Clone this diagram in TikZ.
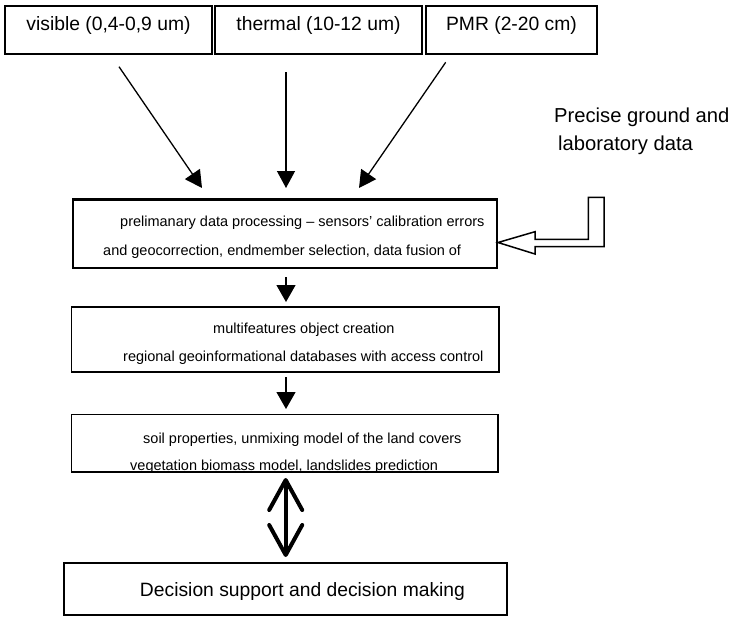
\documentclass[tikz,border=0pt]{standalone}
\usepackage{fontspec}
\setmainfont{Liberation Sans}
\usetikzlibrary{arrows.meta}
\begin{document}
\begin{tikzpicture}[x=1pt,y=-1pt,
  band/.style={draw,line width=2.2pt,minimum width=#1,minimum height=48pt,inner sep=0pt},
  stage/.style={draw,line width=1.4pt,inner sep=0pt},
  big/.style={font=\fontsize{19.3}{22}\selectfont,inner sep=0pt},
  small/.style={font=\fontsize{14.5}{17}\selectfont,inner sep=0pt,anchor=west},
  feed/.style={line width=1.3pt,-{Triangle[length=17pt,width=18pt]}},
  flow/.style={line width=1.3pt,-{Triangle[length=17pt,width=19pt]}}]
\useasboundingbox (0,0) rectangle (731,616);

% spectral bands
\node[band=207pt] (vis) at (108.2,29.9) {};
\node[band=207pt] (thr) at (318.7,29.9) {};
\node[band=171pt] (pmr) at (511.2,29.9) {};
\node[big] at (108.5,26) {visible (0,4-0,9 um)};
\node[big] at (318.5,26) {thermal (10-12 um)};
\node[big] at (511.5,26) {PMR (2-20 cm)};

% processing stages
\node[stage,line width=2.2pt,minimum width=424.3pt,minimum height=68.5pt] (pre) at (284.85,233.75) {};
\coordinate (preA) at (202,188);
\coordinate (preB) at (286,188);
\coordinate (preC) at (359,188);
\coordinate (preR) at (498,242.5);
\coordinate (preS) at (286,277);
\node[small] at (120,223) {prelimanary data processing -- sensors' calibration errors};
\node[small] at (103,251.5) {and geocorrection, endmember selection, data fusion of};

\node[stage,minimum width=427.3pt,minimum height=65pt] (obj) at (285.35,339.5) {};
\coordinate (objN) at (286,302);
\coordinate (objS) at (286,377);
\node[small] at (213,330) {multifeatures object creation};
\node[small] at (123,358) {regional geoinformational databases with access control};

\node[stage,minimum width=426.3pt,minimum height=57.7pt] (mod) at (284.85,443.15) {};
\coordinate (modN) at (286,409);
\coordinate (modS) at (285.7,478);
\node[small] at (143,440) {soil properties, unmixing model of the land covers};
\begin{scope}
  \clip (72,414) rectangle (498,471.5);
  \node[small] at (130,467) {vegetation biomass model, landslides prediction};
\end{scope}

\node[stage,minimum width=443pt,minimum height=52pt] (dec) at (285.5,589) {};
\coordinate (decN) at (285.7,557);
\node[big] at (302.5,592) {Decision support and decision making};

% ground truth input
\node[big,font=\fontsize{20.2}{23}\selectfont,anchor=west] (gnd) at (554,117) {Precise ground and};
\node[big,font=\fontsize{20.2}{23}\selectfont,anchor=west] (lab) at (558,145) {laboratory data};
\draw[line width=1.5pt,line join=miter]
  (preR) -- (535,231.7) -- (535,239.3) -- (588.3,239.3) -- (588.3,197.3)
  -- (604,197.3) -- (604,246.7) -- (535,246.7) -- (535,254) -- cycle;

% connectors
\coordinate (visS) at (119,66.7);
\coordinate (thrS) at (286,72);
\coordinate (pmrS) at (445.7,62.3);
\draw[feed] (visS) -- (preA);
\draw[feed] (thrS) -- (preB);
\draw[feed] (pmrS) -- (preC);
\draw[flow] (preS) -- (objN);
\draw[flow] (objS) -- (modN);
\draw[line width=4pt,line cap=round,
  {Straight Barb[length=30pt,width=33pt,round]}-{Straight Barb[length=30pt,width=33pt,round]}]
  (modS) -- (decN);
\end{tikzpicture}
\end{document}
